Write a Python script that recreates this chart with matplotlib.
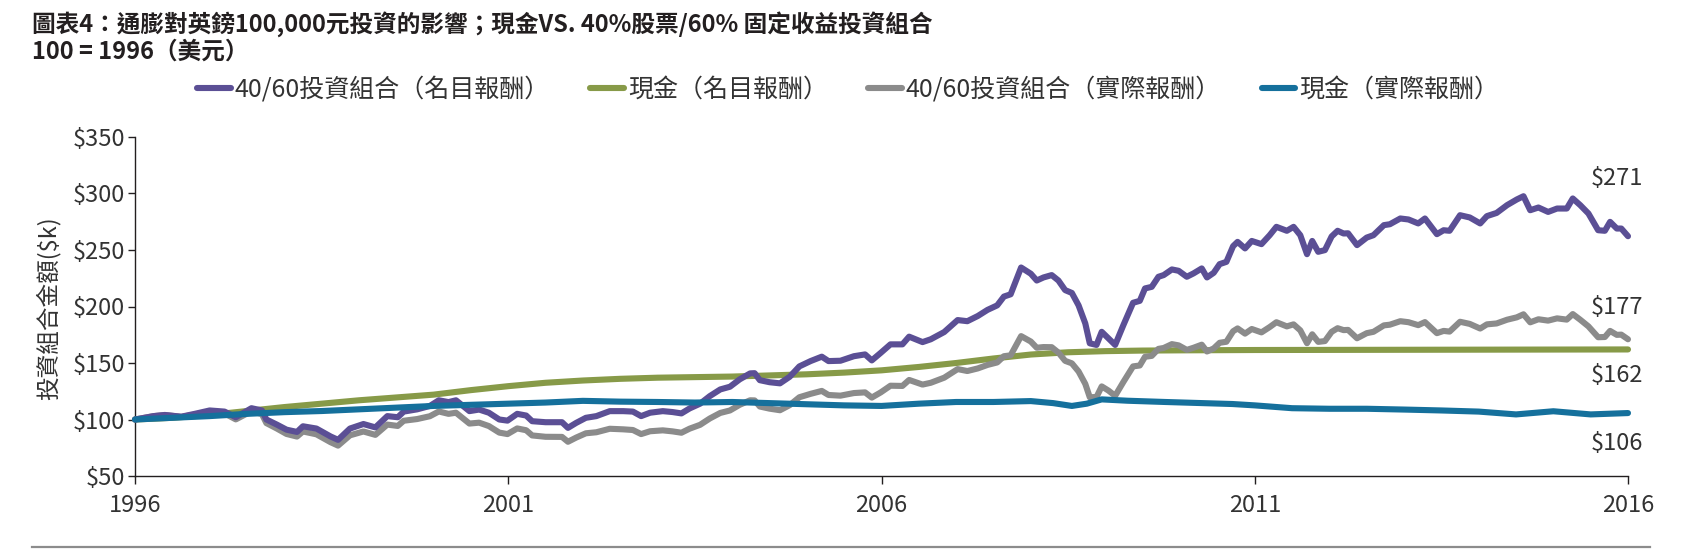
import matplotlib
matplotlib.use("Agg")
import matplotlib.pyplot as plt
from matplotlib.lines import Line2D

plt.rcParams['font.family'] = ['Noto Sans CJK TC', 'DejaVu Sans']
plt.rcParams['text.parse_math'] = False

# ---------------- data ----------------
title_line1 = "圖表4：通膨對英鎊100,000元投資的影響；現金VS. 40%股票/60% 固定收益投資組合"
title_line2 = "100 = 1996（美元）"
y_label = "投資組合金額($k)"
series_names = ["40/60投資組合（名目報酬）", "現金（名目報酬）", "40/60投資組合（實際報酬）", "現金（實際報酬）"]
end_labels = ["$271", "$162", "$177", "$106"]

x_ticks = [1996, 2001, 2006, 2011, 2016]
y_ticks = [50, 100, 150, 200, 250, 300, 350]
y_tick_labels = ["$50", "$100", "$150", "$200", "$250", "$300", "$350"]

port_years = [
    1996.00, 1996.25, 1996.40, 1996.62, 1996.80, 1997.00, 1997.20, 1997.35, 1997.56, 1997.70,
    1997.76, 1997.90, 1998.03, 1998.17, 1998.25, 1998.43, 1998.62, 1998.72, 1998.88, 1999.06,
    1999.22, 1999.38, 1999.52, 1999.60, 1999.78, 1999.95, 2000.07, 2000.20, 2000.30, 2000.48,
    2000.61, 2000.74, 2000.88, 2000.99, 2001.12, 2001.24, 2001.32, 2001.50, 2001.72, 2001.80,
    2001.91, 2002.04, 2002.18, 2002.36, 2002.54, 2002.67, 2002.78, 2002.90, 2003.07, 2003.20,
    2003.32, 2003.43, 2003.57, 2003.70, 2003.84, 2003.97, 2004.10, 2004.24, 2004.30, 2004.37,
    2004.50, 2004.64, 2004.77, 2004.90, 2005.05, 2005.20, 2005.29, 2005.45, 2005.63, 2005.78,
    2005.87, 2005.99, 2006.12, 2006.28, 2006.37, 2006.55, 2006.66, 2006.84, 2007.02, 2007.15,
    2007.29, 2007.42, 2007.55, 2007.64, 2007.73, 2007.87, 2008.00, 2008.08, 2008.17, 2008.28,
    2008.37, 2008.46, 2008.55, 2008.64, 2008.73, 2008.79, 2008.88, 2008.95, 2009.04, 2009.13,
    2009.24, 2009.37, 2009.46, 2009.53, 2009.62, 2009.71, 2009.78, 2009.89, 2009.98, 2010.09,
    2010.18, 2010.29, 2010.36, 2010.45, 2010.53, 2010.62, 2010.71, 2010.77, 2010.87, 2010.96,
    2011.09, 2011.20, 2011.29, 2011.43, 2011.52, 2011.61, 2011.70, 2011.77, 2011.85, 2011.94,
    2012.03, 2012.11, 2012.19, 2012.25, 2012.37, 2012.50, 2012.59, 2012.73, 2012.81, 2012.95,
    2013.06, 2013.19, 2013.28, 2013.44, 2013.53, 2013.61, 2013.75, 2013.88, 2014.02, 2014.11,
    2014.24, 2014.38, 2014.51, 2014.60, 2014.69, 2014.80, 2014.93, 2015.05, 2015.18, 2015.26,
    2015.36, 2015.47, 2015.60, 2015.69, 2015.76, 2015.85, 2015.91, 2016.00,
]

port_nominal = [
    100.0, 103.0, 104.0, 102.5, 105.0, 108.0, 107.0, 102.0, 110.0, 108.0,
    100.0, 95.5, 91.0, 89.0, 94.0, 92.0, 85.0, 82.0, 92.0, 96.0,
    93.0, 103.0, 102.0, 107.0, 109.0, 112.0, 117.0, 115.4, 117.0, 107.4,
    108.8, 106.0, 100.0, 99.0, 105.0, 103.5, 98.5, 97.6, 97.6, 92.6,
    97.0, 101.5, 103.0, 107.4, 107.4, 107.0, 103.0, 106.0, 107.4, 106.6,
    105.4, 109.8, 114.0, 120.7, 126.6, 129.0, 135.5, 140.8, 141.0, 134.8,
    133.0, 132.0, 137.8, 147.0, 151.7, 155.6, 151.7, 152.0, 156.0, 157.6,
    152.3, 159.0, 166.5, 166.5, 173.3, 168.5, 171.0, 177.4, 188.0, 187.0,
    191.6, 197.0, 201.0, 208.8, 210.8, 234.5, 229.0, 223.0, 225.7, 227.8,
    223.0, 214.5, 212.0, 201.0, 185.0, 167.4, 166.0, 177.6, 171.8, 166.0,
    183.5, 203.3, 205.0, 216.0, 217.4, 226.3, 227.8, 232.8, 231.6, 226.3,
    229.3, 233.7, 225.7, 229.8, 237.5, 239.5, 253.4, 257.2, 251.4, 258.0,
    255.2, 263.1, 270.5, 267.0, 270.5, 263.1, 246.3, 258.0, 248.4, 249.9,
    262.0, 267.0, 264.6, 264.8, 254.3, 261.0, 263.1, 272.0, 272.8, 277.9,
    277.0, 273.5, 277.9, 264.0, 267.5, 267.0, 280.8, 278.8, 273.5, 280.0,
    282.8, 289.7, 294.7, 297.6, 285.2, 287.6, 283.7, 286.7, 286.7, 295.6,
    289.7, 282.3, 267.5, 267.0, 274.9, 269.0, 269.0, 262.2,
]

port_real = [
    100.0, 103.0, 104.0, 102.3, 104.4, 106.9, 105.4, 100.1, 107.3, 104.8,
    96.8, 92.0, 87.2, 84.9, 89.4, 86.9, 79.9, 76.9, 86.0, 89.4,
    86.4, 95.5, 94.3, 98.9, 100.4, 102.9, 107.1, 105.0, 106.0, 96.4,
    97.2, 94.2, 88.4, 87.1, 92.1, 90.5, 85.9, 84.7, 84.6, 80.3,
    84.0, 87.8, 88.7, 91.8, 91.3, 90.7, 87.1, 89.6, 90.4, 89.5,
    88.3, 91.9, 95.3, 100.9, 105.8, 108.0, 113.0, 117.0, 116.9, 111.5,
    109.6, 108.2, 112.7, 119.7, 122.7, 125.3, 121.7, 121.1, 123.4, 124.0,
    119.4, 124.0, 129.9, 129.7, 135.0, 130.9, 132.5, 137.0, 144.6, 142.9,
    145.2, 148.3, 150.5, 156.0, 156.8, 173.8, 169.0, 163.5, 164.1, 164.0,
    159.2, 151.9, 149.7, 142.5, 131.5, 119.7, 119.9, 129.3, 125.6, 121.0,
    133.2, 147.0, 147.8, 155.5, 156.3, 162.5, 163.3, 166.7, 165.6, 161.6,
    163.5, 166.2, 160.2, 162.9, 167.9, 168.8, 178.1, 180.6, 176.0, 180.1,
    177.1, 181.8, 186.1, 182.4, 184.2, 178.9, 167.5, 175.4, 168.7, 169.4,
    177.6, 180.8, 179.1, 179.3, 171.9, 176.4, 177.6, 183.3, 183.9, 187.0,
    186.1, 183.5, 186.2, 176.4, 178.4, 177.8, 186.5, 184.6, 180.5, 184.2,
    185.0, 188.3, 190.4, 193.1, 186.0, 188.7, 187.5, 189.5, 188.4, 193.3,
    188.3, 182.4, 172.8, 173.0, 178.4, 174.9, 175.1, 171.0,
]

cash_nom_years = [
    1996.0, 1996.5, 1997.0, 1997.5, 1998.0, 1998.5, 1999.0, 1999.5, 2000.0, 2000.5,
    2001.0, 2001.5, 2002.0, 2002.5, 2003.0, 2003.5, 2004.0, 2004.5, 2005.0, 2005.5,
    2006.0, 2006.5, 2007.0, 2007.5, 2008.0, 2008.5, 2009.0, 2009.5, 2010.0, 2011.0,
    2012.0, 2013.0, 2014.0, 2015.0, 2016.0,
]
cash_nominal = [
    100.0, 101.5, 104.0, 107.5, 111.0, 114.0, 117.0, 119.5, 122.0, 126.0,
    129.5, 132.5, 134.5, 136.0, 137.0, 137.5, 138.0, 139.0, 140.0, 141.5,
    143.5, 146.5, 150.0, 154.0, 157.5, 159.5, 160.5, 161.0, 161.2, 161.5,
    161.6, 161.7, 161.8, 161.9, 162.0,
]

cash_real_years = [
    1996.0, 1996.5, 1997.0, 1997.5, 1998.0, 1998.5, 1999.0, 1999.5, 2000.0, 2000.5,
    2001.0, 2001.5, 2002.0, 2002.5, 2003.0, 2003.5, 2004.0, 2004.5, 2005.0, 2005.5,
    2006.0, 2006.5, 2007.0, 2007.5, 2008.0, 2008.3, 2008.55, 2008.75, 2008.95, 2009.3,
    2009.8, 2010.3, 2010.7, 2011.0, 2011.5, 2012.0, 2012.5, 2013.0, 2013.5, 2014.0,
    2014.5, 2015.0, 2015.5, 2016.0,
]
cash_real = [
    100.0, 101.5, 103.0, 105.0, 106.5, 107.5, 109.0, 110.5, 112.0, 113.0,
    114.0, 115.0, 116.5, 115.8, 115.5, 115.0, 115.5, 114.5, 113.5, 112.5,
    112.0, 114.0, 115.5, 115.5, 116.3, 114.5, 112.0, 114.0, 117.8, 116.6,
    115.5, 114.5, 113.7, 112.5, 110.0, 109.5, 109.5, 108.8, 108.0, 107.0,
    104.5, 107.3, 104.5, 105.7,
]

# ---------------- styles ----------------
C_PURPLE = "#5b4f95"
C_GREEN = "#879a48"
C_GRAY = "#8b8b8b"
C_BLUE = "#15709c"
TXT = "#231f20"
LBL = "#333333"
W, H = 1688, 550
FS = 17

fig = plt.figure(figsize=(W / 100, H / 100), dpi=100)
ax = fig.add_axes([135 / W, 1 - 476 / H, (1628 - 135) / W, (476 - 137) / H])

lw = 4.4
kw = dict(lw=lw, solid_capstyle="round", solid_joinstyle="round", clip_on=False)
l_green, = ax.plot(cash_nom_years, cash_nominal, color=C_GREEN, zorder=2, **kw)
l_gray, = ax.plot(port_years, port_real, color=C_GRAY, zorder=3, **kw)
l_purple, = ax.plot(port_years, port_nominal, color=C_PURPLE, zorder=4, **kw)
l_blue, = ax.plot(cash_real_years, cash_real, color=C_BLUE, zorder=5, **kw)

ax.set_xlim(1996, 2016)
ax.set_ylim(50, 350)
ax.set_xticks(x_ticks)
ax.set_xticklabels([str(t) for t in x_ticks])
ax.set_yticks(y_ticks)
ax.set_yticklabels(y_tick_labels)
for s in ["top", "right"]:
    ax.spines[s].set_visible(False)
for s in ["left", "bottom"]:
    ax.spines[s].set_color(TXT)
    ax.spines[s].set_linewidth(1.0)
ax.tick_params(axis="y", direction="out", length=5, width=1.0, color=TXT,
               labelsize=FS, labelcolor=LBL, pad=2)
ax.tick_params(axis="x", direction="out", length=6, width=1.0, color=TXT,
               labelsize=FS, labelcolor=LBL, pad=7)
ax.patch.set_visible(False)

# end-value labels
ends = [(l_purple, 58), (l_green, -26), (l_gray, 32), (l_blue, -30)]
for (line, dy), lab in zip(ends, end_labels):
    xs, ys = line.get_data()
    ax.annotate(lab, xy=(xs[-1], ys[-1]), xytext=(-11, dy), textcoords="offset pixels",
                ha="center", va="center", fontsize=FS, color=LBL, annotation_clip=False)

# y label
fig.text(48 / W, 1 - 308 / H, y_label, rotation=90, ha="center", va="center",
         fontsize=FS, color=LBL)

# title
fig.text(32 / W, 1 - 24 / H, title_line1, ha="left", va="center", fontsize=17,
         fontweight="bold", color=TXT)
fig.text(32 / W, 1 - 52 / H, title_line2, ha="left", va="center", fontsize=17,
         fontweight="bold", color=TXT)

# legend
handles = [l_purple, l_green, l_gray, l_blue]
leg = fig.legend(handles, series_names, loc="center", bbox_to_anchor=(848 / W, 1 - 90 / H),
                 ncol=4, frameon=False, fontsize=18, handlelength=1.35, handletextpad=0.15,
                 columnspacing=1.62, borderaxespad=0, borderpad=0)
for t in leg.get_texts():
    t.set_color(LBL)

# bottom rule
fig.add_artist(Line2D([32 / W, 1650 / W], [1 - 547 / H, 1 - 547 / H], color="#8c8c8c",
                      lw=1.6, transform=fig.transFigure))

fig.savefig("out.png", dpi=100)
